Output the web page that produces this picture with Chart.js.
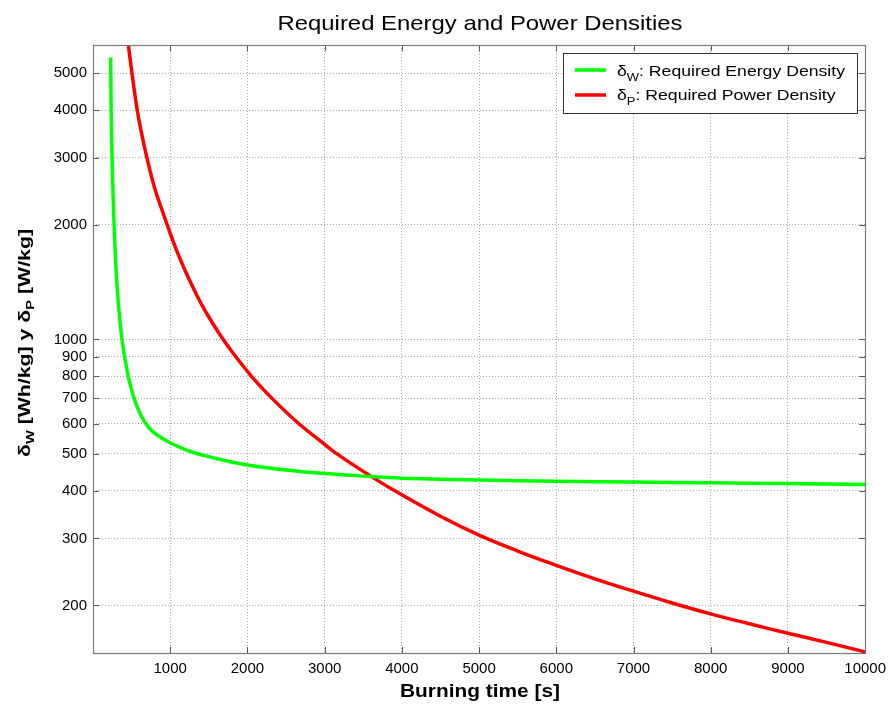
<!DOCTYPE html>
<html><head><meta charset="utf-8">
<script src="https://cdn.jsdelivr.net/npm/chart.js@4/dist/chart.umd.min.js"></script>
<style>html,body{margin:0;padding:0;background:#fff}#wrap{width:893px;height:706px}</style>
</head><body><div id="wrap"><canvas id="c" width="893" height="706"></canvas></div>
<script>
// ---- data ----
const energyTime = [229,235,247,273,296,322,351,376,409,457,497,533,600,679,767,890,1000,1229,1450,1700,2000,2500,3000,3600,4000,5000,6000,7000,8000,9000,10000];
const energyDensity = [5500,4000,3000,2000,1560,1290,1110,1000,900,800,740,700,645,603,574,551,535,510,495,481,468,454,444,436,432,427,424,422,420,418,416];
const powerTime = [455,505,569,620,695,800,900,1000,1100,1200,1362,1500,1643,1800,2053,2312,2656,3000,3131,3500,3909,4500,5000,5500,6000,6500,7000,7500,8000,8500,9000,9500,10000];
const powerDensity = [6000,5000,4050,3550,3020,2490,2170,1900,1680,1505,1285,1145,1030,928,800,702,603,530,505,450,400,343,306,278,255,235,218,203,190,179,169,160,151];
const xTicks = [1000,2000,3000,4000,5000,6000,7000,8000,9000,10000];
const yTicks = [200,300,400,500,600,700,800,900,1000,2000,3000,4000,5000];
const titleText = 'Required Energy and Power Densities';
const xLabel = 'Burning time [s]';
const yLabelParts = [['δ',''],['W','sub'],[' [Wh/kg] y ',''],['δ',''],['P','sub'],[' [W/kg]','']];
const legendEntries = [
  {sym:'δ', sub:'W', rest:': Required Energy Density', color:'#00ff00'},
  {sym:'δ', sub:'P', rest:': Required Power Density', color:'#ff0000'}
];

const FAM = '"Liberation Sans", Arial, Helvetica, sans-serif';

function drawScaledText(ctx, text, x, y, font, targetWidth, align){
  ctx.save();
  ctx.font = font;
  const w = ctx.measureText(text).width;
  const s = targetWidth / w;
  ctx.translate(x, y);
  ctx.scale(s, 1);
  ctx.textBaseline = 'alphabetic';
  ctx.textAlign = 'left';
  ctx.fillText(text, align === 'center' ? -w/2 : 0, 0);
  ctx.restore();
}

const decor = {
  id: 'decor',
  afterDraw(chart){
    const {ctx, chartArea:a, scales} = chart;
    ctx.save();
    // inward ticks
    ctx.strokeStyle = '#555';
    ctx.lineWidth = 1;
    ctx.beginPath();
    yTicks.forEach(v=>{
      const py = Math.round(scales.y.getPixelForValue(v))+0.5;
      ctx.moveTo(a.left, py); ctx.lineTo(a.left+6, py);
      ctx.moveTo(a.right, py); ctx.lineTo(a.right-6, py);
    });
    xTicks.forEach(v=>{
      const px = Math.round(scales.x.getPixelForValue(v))+0.5;
      ctx.moveTo(px, a.bottom); ctx.lineTo(px, a.bottom-6);
      ctx.moveTo(px, a.top); ctx.lineTo(px, a.top+6);
    });
    ctx.stroke();
    // box
    ctx.strokeStyle = '#7a7a7a';
    ctx.lineWidth = 1.2;
    ctx.strokeRect(Math.round(a.left)+0.5, Math.round(a.top)+0.5, Math.round(a.right-a.left), Math.round(a.bottom-a.top));

    ctx.fillStyle = '#000';
    drawScaledText(ctx, titleText, 480, 29.5, '21px '+FAM, 405, 'center');
    drawScaledText(ctx, xLabel, 480, 697, 'bold 18px '+FAM, 160, 'center');

    // y label (rotated, with subscripts)
    ctx.save();
    const big = 'bold 16px '+FAM, small = 'bold 11px '+FAM;
    let total = 0;
    const widths = yLabelParts.map(p=>{ctx.font = p[1]==='sub'?small:big; const w = ctx.measureText(p[0]).width; total += w; return w;});
    const sLen = 228/total;
    ctx.translate(30, 343);
    ctx.rotate(-Math.PI/2);
    ctx.scale(sLen, 1);
    let cx = -total/2;
    ctx.textBaseline = 'alphabetic';
    ctx.textAlign = 'left';
    yLabelParts.forEach((p,i)=>{
      ctx.font = p[1]==='sub'?small:big;
      ctx.fillText(p[0], cx, p[1]==='sub'?4:0);
      cx += widths[i];
    });
    ctx.restore();

    // legend
    ctx.fillStyle = '#fff';
    ctx.fillRect(563.5, 53.5, 294, 60);
    ctx.strokeStyle = '#333';
    ctx.lineWidth = 1;
    ctx.strokeRect(563.5, 53.5, 294, 60);
    const lf = '15px '+FAM, lsf = '11px '+FAM;
    function entryWidth(e){
      ctx.font = lf; let w = ctx.measureText(e.sym).width + ctx.measureText(e.rest).width;
      ctx.font = lsf; w += ctx.measureText(e.sub).width; return w;
    }
    const ls = 228/entryWidth(legendEntries[0]);
    const lineYs = [70, 95], baseYs = [76, 99.5];
    legendEntries.forEach((e,i)=>{
      ctx.strokeStyle = e.color; ctx.lineWidth = 3.5;
      ctx.beginPath(); ctx.moveTo(575, lineYs[i]); ctx.lineTo(606, lineYs[i]); ctx.stroke();
      ctx.save();
      ctx.fillStyle = '#000';
      ctx.translate(617, baseYs[i]);
      ctx.scale(ls, 1);
      ctx.textBaseline = 'alphabetic'; ctx.textAlign = 'left';
      let x = 0;
      ctx.font = lf; ctx.fillText(e.sym, x, 0); x += ctx.measureText(e.sym).width;
      ctx.font = lsf; ctx.fillText(e.sub, x, 5); x += ctx.measureText(e.sub).width;
      ctx.font = lf; ctx.fillText(e.rest, x, 0);
      ctx.restore();
    });
    ctx.restore();
  }
};

new Chart(document.getElementById('c'), {
  type: 'line',
  data: {
    datasets: [
      {data: energyTime.map((t,i)=>({x:t, y:energyDensity[i]})), borderColor:'#00ff00', borderWidth:3.5, pointRadius:0, tension:0.4, fill:false, clip:0},
      {data: powerTime.map((t,i)=>({x:t, y:powerDensity[i]})), borderColor:'#ff0000', borderWidth:3.5, pointRadius:0, tension:0.4, fill:false, clip:0}
    ]
  },
  options: {
    responsive:false, animation:false, devicePixelRatio:1,
    layout:{padding:{top:45, right:27, left:0, bottom:0}},
    plugins:{legend:{display:false}, title:{display:false}, tooltip:{enabled:false}},
    scales:{
      x:{type:'linear', min:0, max:10000,
        afterBuildTicks: s=>{ s.ticks = xTicks.map(v=>({value:v})); },
        afterFit: s=>{ s.height = 53; },
        ticks:{callback:v=>String(v), font:{family:FAM, size:15}, color:'#000', padding:7, maxRotation:0, autoSkip:false},
        grid:{color:'#a8a8a8', lineWidth:1, drawTicks:false},
        border:{display:false, dash:[1,2]}
      },
      y:{type:'logarithmic', min:150, max:5935,
        afterBuildTicks: s=>{ s.ticks = yTicks.map(v=>({value:v})); },
        afterFit: s=>{ s.width = 93; },
        ticks:{callback:v=>String(v), font:{family:FAM, size:15}, color:'#000', padding:6, autoSkip:false},
        grid:{color:'#a8a8a8', lineWidth:1, drawTicks:false},
        border:{display:false, dash:[1,2]}
      }
    }
  },
  plugins:[decor]
});
</script>
</body></html>
